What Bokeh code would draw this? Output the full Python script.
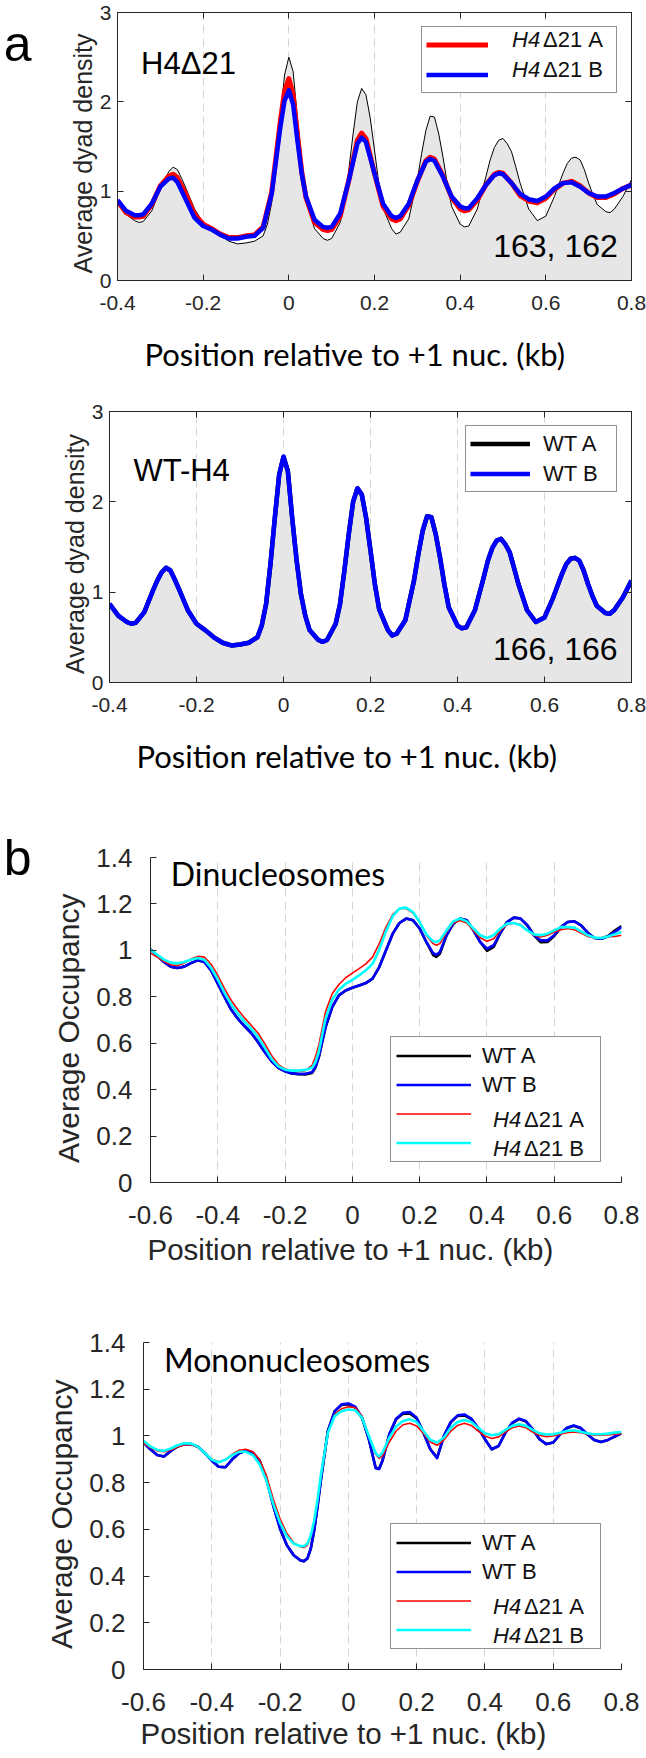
from bokeh.plotting import figure
from bokeh.models import (Range1d, FixedTicker, LinearAxis, Legend, LegendItem,
                          Label, Title, PrintfTickFormatter)
from bokeh.embed import file_html
from bokeh.resources import INLINE

# ------------------------------------------------------------------ data
xticks_a = [-0.4, -0.2, 0.0, 0.2, 0.4, 0.6, 0.8]
xtick_labels_a = ["-0.4", "-0.2", "0", "0.2", "0.4", "0.6", "0.8"]
yticks_a = [0, 1, 2, 3]
ytick_labels_a = ["0", "1", "2", "3"]
xticks_b = [-0.6, -0.4, -0.2, 0.0, 0.2, 0.4, 0.6, 0.8]
xtick_labels_b = ["-0.6", "-0.4", "-0.2", "0", "0.2", "0.4", "0.6", "0.8"]
yticks_b = [0, 0.2, 0.4, 0.6, 0.8, 1.0, 1.2, 1.4]
ytick_labels_b = ["0", "0.2", "0.4", "0.6", "0.8", "1", "1.2", "1.4"]

# panel a: wild-type dyad density (grey area / WT A / WT B)
pos_wt = [-0.40, -0.38, -0.36, -0.35, -0.34, -0.32, -0.30, -0.29, -0.28, -0.27,
          -0.26, -0.25, -0.24, -0.22, -0.20, -0.18, -0.16, -0.14, -0.12, -0.10,
          -0.08, -0.06, -0.05, -0.04, -0.03, -0.02, -0.01, 0.00, 0.01, 0.02,
          0.03, 0.04, 0.05, 0.06, 0.08, 0.09, 0.10, 0.12, 0.13, 0.14,
          0.15, 0.16, 0.17, 0.18, 0.19, 0.20, 0.21, 0.22, 0.24, 0.25,
          0.26, 0.28, 0.30, 0.31, 0.32, 0.33, 0.34, 0.35, 0.36, 0.37,
          0.38, 0.40, 0.41, 0.42, 0.44, 0.46, 0.47, 0.48, 0.49, 0.50,
          0.51, 0.52, 0.53, 0.54, 0.56, 0.58, 0.60, 0.62, 0.63, 0.64,
          0.65, 0.66, 0.67, 0.68, 0.69, 0.70, 0.71, 0.72, 0.74, 0.75,
          0.76, 0.78, 0.80]
dyad_wt = [0.87, 0.74, 0.67, 0.65, 0.66, 0.78, 1.02, 1.13, 1.22, 1.27,
           1.24, 1.14, 1.03, 0.80, 0.65, 0.58, 0.50, 0.44, 0.41, 0.42,
           0.44, 0.50, 0.63, 0.87, 1.31, 1.82, 2.30, 2.50, 2.34, 1.82,
           1.36, 0.98, 0.74, 0.58, 0.47, 0.45, 0.47, 0.65, 0.87, 1.24,
           1.64, 2.00, 2.15, 2.08, 1.82, 1.46, 1.09, 0.81, 0.58, 0.52,
           0.54, 0.69, 1.13, 1.42, 1.68, 1.84, 1.83, 1.64, 1.38, 1.08,
           0.83, 0.63, 0.60, 0.61, 0.80, 1.16, 1.35, 1.49, 1.57, 1.59,
           1.53, 1.44, 1.27, 1.09, 0.80, 0.67, 0.72, 0.94, 1.07, 1.20,
           1.31, 1.37, 1.38, 1.35, 1.24, 1.09, 0.96, 0.85, 0.77, 0.76,
           0.80, 0.94, 1.13]

# panel a: H4 delta21 dyad density
pos_mut = [-0.40, -0.38, -0.36, -0.35, -0.34, -0.32, -0.30, -0.28, -0.27, -0.26,
           -0.24, -0.22, -0.20, -0.18, -0.16, -0.14, -0.12, -0.10, -0.08, -0.06,
           -0.04, -0.03, -0.02, -0.01, 0.00, 0.01, 0.02, 0.03, 0.04, 0.06,
           0.08, 0.09, 0.10, 0.12, 0.14, 0.16, 0.17, 0.18, 0.20, 0.22,
           0.24, 0.25, 0.26, 0.28, 0.30, 0.32, 0.33, 0.34, 0.36, 0.38,
           0.40, 0.41, 0.42, 0.44, 0.46, 0.48, 0.49, 0.50, 0.52, 0.54,
           0.56, 0.58, 0.60, 0.62, 0.64, 0.66, 0.68, 0.70, 0.72, 0.74,
           0.76, 0.78, 0.80]
dyad_h4d21_a = [0.89, 0.76, 0.71, 0.71, 0.72, 0.85, 1.06, 1.17, 1.19, 1.15,
                0.96, 0.74, 0.63, 0.58, 0.52, 0.48, 0.48, 0.50, 0.51, 0.60,
                0.99, 1.38, 1.78, 2.12, 2.26, 2.08, 1.64, 1.22, 0.93, 0.65,
                0.57, 0.56, 0.57, 0.72, 1.12, 1.57, 1.65, 1.59, 1.20, 0.83,
                0.69, 0.67, 0.69, 0.84, 1.11, 1.34, 1.38, 1.36, 1.17, 0.93,
                0.80, 0.78, 0.79, 0.90, 1.07, 1.19, 1.21, 1.20, 1.09, 0.95,
                0.89, 0.87, 0.92, 1.02, 1.09, 1.11, 1.06, 0.98, 0.93, 0.93,
                0.97, 1.03, 1.07]
dyad_h4d21_b = [0.90, 0.78, 0.73, 0.73, 0.74, 0.86, 1.05, 1.14, 1.15, 1.10,
                0.90, 0.70, 0.61, 0.57, 0.51, 0.47, 0.47, 0.49, 0.50, 0.59,
                0.97, 1.34, 1.71, 2.01, 2.13, 1.97, 1.57, 1.20, 0.94, 0.68,
                0.60, 0.59, 0.60, 0.75, 1.12, 1.53, 1.60, 1.55, 1.20, 0.86,
                0.72, 0.70, 0.72, 0.86, 1.12, 1.33, 1.36, 1.34, 1.16, 0.94,
                0.83, 0.81, 0.81, 0.92, 1.07, 1.18, 1.20, 1.19, 1.09, 0.97,
                0.91, 0.89, 0.94, 1.03, 1.09, 1.10, 1.05, 0.98, 0.94, 0.94,
                0.98, 1.03, 1.07]

# panel b: dinucleosome occupancy
pos_di = [-0.60, -0.58, -0.56, -0.54, -0.52, -0.50, -0.48, -0.46, -0.44, -0.42,
          -0.40, -0.38, -0.36, -0.34, -0.32, -0.30, -0.28, -0.26, -0.24, -0.22,
          -0.20, -0.18, -0.16, -0.14, -0.12, -0.11, -0.10, -0.08, -0.06, -0.04,
          -0.02, 0.00, 0.02, 0.04, 0.06, 0.08, 0.10, 0.12, 0.14, 0.16,
          0.18, 0.20, 0.22, 0.24, 0.25, 0.26, 0.28, 0.30, 0.32, 0.34,
          0.36, 0.38, 0.40, 0.42, 0.44, 0.46, 0.48, 0.50, 0.52, 0.54,
          0.56, 0.58, 0.60, 0.62, 0.64, 0.66, 0.68, 0.70, 0.72, 0.74,
          0.76, 0.78, 0.80]
di_wt_a = [1.005, 0.978, 0.950, 0.930, 0.924, 0.930, 0.945, 0.957, 0.950, 0.914,
           0.856, 0.800, 0.744, 0.705, 0.673, 0.643, 0.604, 0.561, 0.522, 0.494,
           0.479, 0.470, 0.466, 0.465, 0.472, 0.494, 0.538, 0.667, 0.755, 0.806,
           0.827, 0.839, 0.849, 0.859, 0.878, 0.928, 1.000, 1.072, 1.118, 1.137,
           1.130, 1.094, 1.036, 0.980, 0.972, 0.985, 1.065, 1.115, 1.137, 1.130,
           1.086, 1.036, 0.998, 1.015, 1.075, 1.122, 1.141, 1.137, 1.108, 1.065,
           1.035, 1.036, 1.062, 1.100, 1.122, 1.125, 1.108, 1.075, 1.053, 1.050,
           1.062, 1.085, 1.105]
di_wt_b = [1.003, 0.978, 0.950, 0.930, 0.924, 0.930, 0.945, 0.957, 0.950, 0.914,
           0.856, 0.800, 0.744, 0.705, 0.673, 0.643, 0.604, 0.561, 0.522, 0.494,
           0.479, 0.470, 0.468, 0.468, 0.475, 0.496, 0.540, 0.669, 0.755, 0.806,
           0.827, 0.839, 0.849, 0.859, 0.878, 0.928, 1.000, 1.072, 1.118, 1.137,
           1.130, 1.094, 1.036, 0.988, 0.981, 0.993, 1.065, 1.115, 1.137, 1.130,
           1.086, 1.036, 1.007, 1.022, 1.075, 1.122, 1.141, 1.137, 1.108, 1.065,
           1.043, 1.043, 1.065, 1.100, 1.122, 1.125, 1.108, 1.075, 1.053, 1.050,
           1.060, 1.079, 1.100]
di_h4d21_a = [0.988, 0.971, 0.953, 0.938, 0.935, 0.945, 0.963, 0.974, 0.971, 0.940,
              0.892, 0.835, 0.784, 0.744, 0.708, 0.676, 0.643, 0.597, 0.547, 0.508,
              0.489, 0.482, 0.478, 0.482, 0.504, 0.540, 0.590, 0.734, 0.813, 0.853,
              0.882, 0.902, 0.921, 0.942, 0.971, 1.029, 1.100, 1.155, 1.180, 1.180,
              1.161, 1.122, 1.065, 1.029, 1.022, 1.029, 1.079, 1.118, 1.129, 1.118,
              1.086, 1.055, 1.039, 1.050, 1.086, 1.111, 1.118, 1.111, 1.086, 1.065,
              1.058, 1.065, 1.079, 1.089, 1.094, 1.089, 1.075, 1.060, 1.053, 1.055,
              1.058, 1.060, 1.065]
di_h4d21_b = [1.003, 0.981, 0.960, 0.947, 0.944, 0.950, 0.960, 0.967, 0.960, 0.925,
              0.875, 0.817, 0.767, 0.727, 0.692, 0.662, 0.626, 0.580, 0.532, 0.500,
              0.486, 0.482, 0.482, 0.485, 0.494, 0.518, 0.561, 0.705, 0.787, 0.830,
              0.856, 0.873, 0.892, 0.914, 0.942, 1.003, 1.083, 1.147, 1.180, 1.184,
              1.165, 1.122, 1.069, 1.039, 1.036, 1.043, 1.086, 1.125, 1.137, 1.125,
              1.094, 1.065, 1.053, 1.065, 1.094, 1.115, 1.118, 1.108, 1.086, 1.069,
              1.065, 1.072, 1.086, 1.100, 1.100, 1.098, 1.082, 1.065, 1.055, 1.053,
              1.060, 1.069, 1.079]

# panel b: mononucleosome occupancy
pos_mono = [-0.60, -0.58, -0.56, -0.54, -0.52, -0.50, -0.48, -0.46, -0.44, -0.42,
            -0.40, -0.38, -0.36, -0.34, -0.32, -0.30, -0.28, -0.26, -0.24, -0.22,
            -0.20, -0.18, -0.16, -0.14, -0.13, -0.12, -0.11, -0.10, -0.09, -0.08,
            -0.06, -0.04, -0.02, 0.00, 0.02, 0.04, 0.06, 0.08, 0.09, 0.10,
            0.12, 0.14, 0.16, 0.18, 0.20, 0.22, 0.24, 0.26, 0.28, 0.30,
            0.32, 0.34, 0.36, 0.38, 0.40, 0.42, 0.44, 0.46, 0.48, 0.50,
            0.52, 0.54, 0.56, 0.58, 0.60, 0.62, 0.64, 0.66, 0.68, 0.70,
            0.72, 0.74, 0.76, 0.78, 0.80]
mono_wt_a = [0.972, 0.943, 0.918, 0.912, 0.936, 0.955, 0.965, 0.965, 0.953, 0.926,
             0.894, 0.868, 0.866, 0.900, 0.926, 0.936, 0.929, 0.894, 0.816, 0.702,
             0.603, 0.532, 0.489, 0.467, 0.464, 0.475, 0.518, 0.596, 0.702, 0.816,
             1.021, 1.106, 1.133, 1.136, 1.123, 1.078, 0.986, 0.864, 0.860, 0.894,
             1.007, 1.072, 1.095, 1.096, 1.075, 1.014, 0.943, 0.907, 1.000, 1.058,
             1.086, 1.088, 1.072, 1.035, 0.986, 0.943, 0.957, 1.014, 1.055, 1.072,
             1.062, 1.028, 0.986, 0.965, 0.972, 1.007, 1.033, 1.043, 1.033, 1.007,
             0.983, 0.974, 0.983, 0.997, 1.011]
mono_wt_b = [0.972, 0.943, 0.918, 0.912, 0.936, 0.955, 0.965, 0.965, 0.953, 0.926,
             0.894, 0.868, 0.866, 0.900, 0.926, 0.936, 0.929, 0.894, 0.816, 0.702,
             0.603, 0.532, 0.489, 0.467, 0.464, 0.475, 0.518, 0.596, 0.702, 0.816,
             1.021, 1.106, 1.135, 1.139, 1.125, 1.078, 0.986, 0.862, 0.858, 0.894,
             1.007, 1.074, 1.099, 1.102, 1.078, 1.014, 0.943, 0.905, 1.000, 1.060,
             1.088, 1.092, 1.074, 1.035, 0.986, 0.943, 0.957, 1.014, 1.057, 1.074,
             1.064, 1.028, 0.986, 0.965, 0.972, 1.007, 1.035, 1.045, 1.035, 1.007,
             0.983, 0.974, 0.983, 0.997, 1.011]
mono_h4d21_a = [0.969, 0.950, 0.936, 0.932, 0.940, 0.953, 0.962, 0.962, 0.950, 0.926,
                0.900, 0.889, 0.898, 0.922, 0.939, 0.943, 0.932, 0.898, 0.830, 0.730,
                0.645, 0.582, 0.543, 0.525, 0.522, 0.532, 0.567, 0.631, 0.723, 0.830,
                1.014, 1.092, 1.116, 1.125, 1.121, 1.085, 1.000, 0.922, 0.904, 0.915,
                0.974, 1.021, 1.048, 1.054, 1.043, 1.011, 0.974, 0.960, 0.983, 1.021,
                1.045, 1.054, 1.045, 1.021, 1.000, 0.989, 0.996, 1.017, 1.035, 1.043,
                1.035, 1.017, 1.003, 0.997, 1.000, 1.007, 1.014, 1.017, 1.014, 1.007,
                1.003, 1.003, 1.004, 1.007, 1.010]
mono_h4d21_b = [0.979, 0.955, 0.940, 0.936, 0.946, 0.960, 0.969, 0.967, 0.953, 0.926,
                0.898, 0.887, 0.898, 0.918, 0.932, 0.932, 0.918, 0.879, 0.809, 0.709,
                0.628, 0.570, 0.539, 0.528, 0.528, 0.539, 0.574, 0.638, 0.730, 0.837,
                1.014, 1.085, 1.106, 1.113, 1.110, 1.078, 1.000, 0.926, 0.912, 0.929,
                0.993, 1.040, 1.064, 1.071, 1.060, 1.021, 0.983, 0.972, 0.993, 1.035,
                1.060, 1.068, 1.060, 1.035, 1.011, 1.003, 1.007, 1.026, 1.043, 1.050,
                1.043, 1.026, 1.011, 1.006, 1.007, 1.014, 1.021, 1.024, 1.018, 1.011,
                1.007, 1.007, 1.010, 1.014, 1.017]

for xs, ys in [(pos_wt, dyad_wt), (pos_mut, dyad_h4d21_a), (pos_mut, dyad_h4d21_b),
               (pos_di, di_wt_a), (pos_di, di_wt_b), (pos_di, di_h4d21_a), (pos_di, di_h4d21_b),
               (pos_mono, mono_wt_a), (pos_mono, mono_wt_b), (pos_mono, mono_h4d21_a),
               (pos_mono, mono_h4d21_b)]:
    assert len(xs) == len(ys), (len(xs), len(ys))

# ------------------------------------------------------------------ style
AX = "#262626"
GRID = "#d4d4d4"
FILL = "#e6e6e6"
LEG_TXT = "#111111"
SANS = "Liberation Sans"
HUM = "Lato"
W = 646
NB = "\u00a0"


def make_fig(height, xr, yr, left, right, top, bottom, box):
    p = figure(width=W, height=height, x_range=Range1d(*xr), y_range=Range1d(*yr),
               output_backend="svg", toolbar_location=None,
               min_border_left=left, min_border_right=right,
               min_border_top=top, min_border_bottom=bottom)
    p.background_fill_color = "white"
    p.border_fill_color = "white"
    p.outline_line_color = AX if box else None
    p.outline_line_width = 1
    p.ygrid.visible = False
    return p


def style_axis(ax, ticks, labels, size, standoff):
    ax.ticker = FixedTicker(ticks=ticks)
    ax.formatter = PrintfTickFormatter(format="%g")
    ax.major_label_overrides = dict(zip(ticks, labels))
    ax.major_label_text_font = SANS
    ax.major_label_text_font_size = size
    ax.major_label_text_color = AX
    ax.major_label_standoff = standoff
    ax.axis_line_color = AX
    ax.axis_line_width = 1
    ax.major_tick_line_color = AX
    ax.major_tick_in = 6
    ax.major_tick_out = 0
    ax.minor_tick_line_color = None


def style_grid(p, ticks):
    p.xgrid.ticker = FixedTicker(ticks=ticks)
    p.xgrid.grid_line_color = GRID
    p.xgrid.grid_line_width = 1
    p.xgrid.grid_line_dash = "8 5"


def box_ticks(p, xt, yt):
    # inward ticks on the top and right edges of a boxed MATLAB-style axes
    for loc, ticks in (("above", xt), ("right", yt)):
        ax = LinearAxis()
        style_axis(ax, ticks, [""] * len(ticks), "0px", 0)
        ax.major_label_text_alpha = 0
        p.add_layout(ax, loc)


def panel_letter(p, ypos, letter, standoff):
    # the panel letter sits in the left margin, drawn as the single label of a bare axis
    ax = LinearAxis(ticker=FixedTicker(ticks=[ypos]),
                    major_label_overrides={ypos: letter},
                    major_label_text_font=SANS, major_label_text_font_size="50px",
                    major_label_text_color="black", major_label_standoff=standoff,
                    axis_line_color=None, major_tick_line_color=None,
                    minor_tick_line_color=None, major_tick_in=0, major_tick_out=0)
    p.add_layout(ax, "left")


def ylabel(p, text, size, standoff):
    ax = p.yaxis[0]
    ax.axis_label = text
    ax.axis_label_text_font = SANS
    ax.axis_label_text_font_size = size
    ax.axis_label_text_font_style = "normal"
    ax.axis_label_text_color = AX
    ax.axis_label_standoff = standoff


def xtitle(p, font, size, color, offset, standoff):
    p.add_layout(Title(text="Position relative to +1 nuc. (kb)", align="left",
                       offset=offset, standoff=standoff, text_font=font,
                       text_font_size=size, text_font_style="normal",
                       text_color=color), "below")


def legend(p, pairs, loc, gw, gh, standoff, spacing, padding, margin, lw,
           style="normal", boxed=True):
    # several legends with identical geometry are stacked so that a label can mix
    # an italic gene name with upright text; only the first one draws box and glyphs
    lg = Legend(items=[LegendItem(label=lab, renderers=[r]) for lab, r in pairs],
                location=loc, label_text_font=SANS, label_text_font_size="22px",
                label_text_font_style=style, label_text_color=LEG_TXT,
                glyph_width=gw, glyph_height=gh, label_height=gh, label_width=lw,
                label_standoff=standoff, spacing=spacing, padding=padding,
                margin=margin, border_line_color=AX if boxed else None,
                border_line_width=1, background_fill_color="white",
                background_fill_alpha=1.0 if boxed else 0.0)
    p.add_layout(lg)


def text(p, x, y, s, font, size, align="left"):
    p.add_layout(Label(x=x, y=y, text=s, text_font=font, text_font_size=size,
                       text_color="black", text_align=align,
                       text_baseline="alphabetic"))


# ------------------------------------------------------------------ panel a, H4 delta21
p1 = make_fig(396, (-0.4, 0.8), (0, 3), 109, 15, 12, 116, True)
style_grid(p1, xticks_a)
p1.varea(x=pos_wt, y1=0, y2=dyad_wt, fill_color=FILL)
p1.line(pos_wt, dyad_wt, line_color="black", line_width=1)
r1a = p1.line(pos_mut, dyad_h4d21_a, line_color="#ff0000", line_width=5, line_join="round")
r1b = p1.line(pos_mut, dyad_h4d21_b, line_color="#0000ff", line_width=4.5, line_join="round")
ghost1 = p1.line(pos_mut, dyad_h4d21_b, line_alpha=0)   # invisible, carries text-only legends
style_axis(p1.xaxis[0], xticks_a, xtick_labels_a, "21px", 15)
style_axis(p1.yaxis[0], yticks_a, ytick_labels_a, "21px", 6)
box_ticks(p1, xticks_a, yticks_a)
ylabel(p1, "Average dyad density" + NB * 2, "25px", 0)
panel_letter(p1, 2.99, "a", 34)
xtitle(p1, HUM, "31px", "black", 27, 41)
legend(p1, [(" ", r1a), (" ", r1b)], "top_right", 62, 27, 14, 3, 4, 14, 110)
legend(p1, [("H4", ghost1), ("H4", ghost1)], "top_right", 62, 27, 19, 3, 4, 14, 105,
       style="italic", boxed=False)
legend(p1, [("Δ21 A", ghost1), ("Δ21 B", ghost1)], "top_right", 62, 27, 50, 3, 4, 14, 74,
       boxed=False)
text(p1, -0.345, 2.43, "H4Δ21", SANS, "31px")
text(p1, 0.768, 0.39, "163, 162", SANS, "32px", "right")

# ------------------------------------------------------------------ panel a, WT
p2 = make_fig(402, (-0.4, 0.8), (0, 3), 109, 15, 15, 116, True)
style_grid(p2, xticks_a)
p2.varea(x=pos_wt, y1=0, y2=dyad_wt, fill_color=FILL)
r2a = p2.line(pos_wt, dyad_wt, line_color="black", line_width=4.5, line_join="round")
r2b = p2.line(pos_wt, dyad_wt, line_color="#0000ff", line_width=4.5, line_join="round")
style_axis(p2.xaxis[0], xticks_a, xtick_labels_a, "21px", 15)
style_axis(p2.yaxis[0], yticks_a, ytick_labels_a, "21px", 6)
box_ticks(p2, xticks_a, yticks_a)
ylabel(p2, "Average dyad density" + NB * 2, "25px", 0)
xtitle(p2, HUM, "31px", "black", 27, 41)
legend(p2, [("WT A", r2a), ("WT B", r2b)], "top_right", 60, 27, 13, 3, 4, 14, 69)
text(p2, -0.345, 2.35, "WT-H4", SANS, "31px")
text(p2, 0.768, 0.376, "166, 166", SANS, "32px", "right")


# ------------------------------------------------------------------ panel b
def occupancy_panel(height, top, bottom, tick_std, title_std, pos, wa, wb, ma, mb,
                    name, name_y, letter):
    p = make_fig(height, (-0.6, 0.8), (0, 1.4), 143, 25, top, bottom, False)
    style_grid(p, xticks_b)
    ra = p.line(pos, wa, line_color="black", line_width=2.6, line_join="round")
    rb = p.line(pos, wb, line_color="#0000ff", line_width=2.6, line_join="round")
    rc = p.line(pos, ma, line_color="#ff0000", line_width=1.6, line_join="round")
    rd = p.line(pos, mb, line_color="#00ffff", line_width=2.6, line_join="round")
    ghost = p.line(pos, mb, line_alpha=0)   # invisible, carries text-only legends
    style_axis(p.xaxis[0], xticks_b, xtick_labels_b, "26px", tick_std)
    style_axis(p.yaxis[0], yticks_b, ytick_labels_b, "26px", 18)
    ylabel(p, "Average Occupancy" + NB * 2, "30px", 8)
    if letter:
        panel_letter(p, 1.4, letter, 18)
    xtitle(p, SANS, "29.5px", AX, -3, title_std)
    legend(p, list(zip(("WT A", "WT B", " ", " "), (ra, rb, rc, rd))), "bottom_right",
           75, 27, 11, 2, 5, 20, 113)
    legend(p, [(lab, ghost) for lab in (" ", " ", "H4", "H4")], "bottom_right",
           75, 27, 16, 2, 5, 20, 108, style="italic", boxed=False)
    legend(p, [(lab, ghost) for lab in (" ", " ", "Δ21 A", "Δ21 B")], "bottom_right",
           75, 27, 47, 2, 5, 20, 77, boxed=False)
    text(p, -0.54, name_y, name, HUM, "32px")
    return p


p3 = occupancy_panel(480, 59, 96, 23, 8, pos_di, di_wt_a, di_wt_b, di_h4d21_a,
                     di_h4d21_b, "Dinucleosomes", 1.331, "b")
p4 = occupancy_panel(480, 64, 89, 23, 3, pos_mono, mono_wt_a, mono_wt_b, mono_h4d21_a,
                     mono_h4d21_b, "Mononucleosomes", 1.327, None)

open("out.html", "w").write(file_html([p1, p2, p3, p4], INLINE, title="plot"))
